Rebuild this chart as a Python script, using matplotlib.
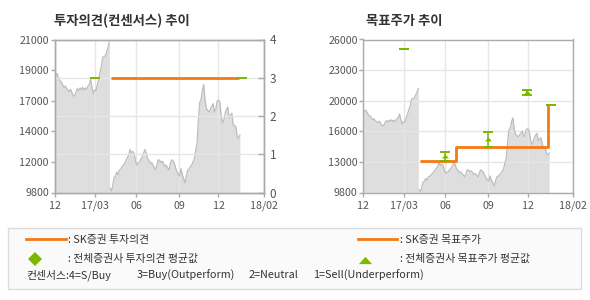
import matplotlib
matplotlib.use('Agg')
import matplotlib.pyplot as plt
import numpy as np
from matplotlib.lines import Line2D
from matplotlib.patches import Rectangle

plt.rcParams['font.family'] = ['Noto Sans CJK KR', 'DejaVu Sans']

# ---------------- data ----------------
# x axis = trading-day index starting 2016-12-01
x_tick_pos = [0, 61, 122, 186, 245, 313]
x_tick_labels = ['12', '17/03', '06', '09', '12', '18/02']

# share price, segment 1 (Dec-2016 .. end of Mar-2017), every 2nd trading day from index 0
price_seg1 = [18300, 18450, 18500, 18200, 18000, 17900, 17700, 17500, 17600, 17400,
              17300, 17200, 17350, 17100, 16900, 16850, 17150, 17400, 17250, 17450,
              17350, 17500, 17300, 17450, 17350, 17600, 17700, 18100, 17500, 17050,
              17300, 17250, 17700, 18100, 18600, 19000, 19700, 19750, 19800, 20100,
              20400, 20800]
# share price, segment 2 (after re-listing), every 2nd trading day from index 83
price_seg2 = [10100, 9900, 10300, 10900, 11000, 11300, 11100, 11450, 11500, 11700,
              11800, 11950, 12200, 12350, 12600, 12950, 12700, 12800, 12650, 12100,
              11800, 11950, 12050, 12250, 12400, 12650, 12950, 12700, 12300, 12150,
              11950, 12000, 11800, 11650, 11450, 11800, 12200, 12150, 12000, 12100,
              11900, 11700, 11800, 11600, 11450, 11900, 12200, 12100, 11950, 11600,
              11300, 11150, 11000, 11550, 11100, 10800, 10500, 11000, 11450, 11500,
              11700, 11800, 12050, 12300, 12900, 13400, 15100, 16400, 16600, 17300,
              17700, 16500, 15950, 15800, 15700, 15900, 16100, 16300, 15700, 15900,
              16500, 16550, 16400, 15450, 14900, 15100, 15600, 15900, 16050, 15250,
              15450, 15600, 14750, 14700, 14600, 13900, 13750, 14000]
seg1_start, seg2_start, step = 0, 83, 2

# left chart: SK opinion (1..4) and consensus
rating_idx = [84, 275]
rating_val = [3, 3]
cons_rating_idx = [61, 280]
cons_rating_val = [3, 3]
left_yticks_labels = ['9800', '12000', '14000', '17000', '19000', '21000']
left_ylim = (9800, 21000)
rating_ticks = [0, 1, 2, 3, 4]

# right chart: SK target price and consensus range / average
target_idx = [85, 138, 275]
target_val = [13100, 14600, 19100]
cons_idx = [61, 122, 186, 244, 280]
cons_hi = [25000, 14100, 16200, 20600, 19100]
cons_lo = [25000, 13100, 14600, 20100, 19100]
cons_avg = [np.nan, 13700, 15450, 20450, np.nan]
right_yticks_labels = ['9800', '13000', '16000', '20000', '23000', '26000']
right_ylim = (9800, 26000)

# ---------------- style ----------------
ORANGE = '#f57a12'
GREEN = '#7cb800'
FILL = '#dedede'
PLINE = '#bdbdbd'
GRID = '#e6e6e6'
SPINE = '#ababab'
TXT = '#555555'
DARK = '#333333'

W, H = 590, 300
fig = plt.figure(figsize=(W / 100, H / 100), dpi=100)


def px_ax(x0, x1, y0, y1):
    return fig.add_axes([x0 / W, 1 - y1 / H, (x1 - x0) / W, (y1 - y0) / H])


def draw_price(ax, ymin):
    for start, vals in [(seg1_start, price_seg1), (seg2_start, price_seg2)]:
        idx = np.arange(start, start + step * len(vals), step)
        ax.fill_between(idx, vals, ymin, color=FILL, lw=0, zorder=1)
        ax.plot(idx, vals, color=PLINE, lw=0.9, zorder=2)


def base_style(ax, ylim, ylabels):
    ax.set_xlim(x_tick_pos[0], x_tick_pos[-1])
    ax.set_ylim(*ylim)
    ax.set_xticks(x_tick_pos)
    ax.set_xticklabels(x_tick_labels)
    yt = np.linspace(ylim[0], ylim[1], len(ylabels))
    ax.set_yticks(yt)
    ax.set_yticklabels(ylabels)
    for s in ax.spines.values():
        s.set_color(SPINE)
        s.set_linewidth(1.0)
    ax.tick_params(axis='both', color=SPINE, labelcolor=TXT, labelsize=7.7,
                   direction='out', length=3, width=1)
    ax.tick_params(axis='y', pad=1)
    ax.tick_params(axis='x', pad=3)
    ax.set_axisbelow('line')


# ---- left chart ----
axL = px_ax(54.5, 264, 39.5, 192.5)
base_style(axL, left_ylim, left_yticks_labels)
axL.grid(axis='x', color=GRID, lw=1.0)
draw_price(axL, left_ylim[0])

ax2 = axL.twinx()
ax2.set_ylim(0, 4)
ax2.set_yticks(rating_ticks)
ax2.set_yticklabels([str(v) for v in rating_ticks])
ax2.grid(axis='y', color=GRID, lw=1.0, zorder=0)
ax2.set_axisbelow('line')
for s in ax2.spines.values():
    s.set_color(SPINE)
    s.set_linewidth(1.0)
ax2.tick_params(axis='y', color=SPINE, labelcolor=TXT, labelsize=8.5,
                direction='in', length=4, width=1, pad=4)
ax2.plot(rating_idx, rating_val, drawstyle='steps-post', color=ORANGE, lw=2.0,
         solid_capstyle='butt', zorder=3)
ax2.plot(cons_rating_idx, cons_rating_val, ls='none', marker='_', ms=7, mew=1.4,
         color=GREEN, zorder=4)

# ---- right chart ----
axR = px_ax(363.3, 573.3, 39.5, 192.5)
base_style(axR, right_ylim, right_yticks_labels)
axR.grid(True, color=GRID, lw=1.0)
draw_price(axR, right_ylim[0])
axR.plot(target_idx, target_val, drawstyle='steps-post', color=ORANGE, lw=2.0,
         solid_capstyle='butt', zorder=3)
for xi, lo, hi in zip(cons_idx, cons_lo, cons_hi):
    if hi != lo:
        axR.plot([xi, xi], [lo, hi], color=GREEN, lw=1.1, zorder=4)
    axR.plot([xi, xi], [lo, hi], ls='none', marker='_', ms=7, mew=1.4,
             color=GREEN, zorder=4)
tri = [(-1, -0.55), (1, -0.55), (0, 0.55)]
axR.plot(cons_idx, cons_avg, ls='none', marker=tri, ms=5, color=GREEN,
         mew=0, zorder=5)

# ---- titles ----
fig.text(54.5 / W, 1 - 20.5 / H, '투자의견(컨센서스) 추이', fontsize=9.6,
         fontweight='bold', color=DARK, ha='left', va='center')
fig.text(366.5 / W, 1 - 20.5 / H, '목표주가 추이', fontsize=9.6,
         fontweight='bold', color=DARK, ha='left', va='center')

# ---- legend box ----
fig.add_artist(Rectangle((8.3 / W, 1 - 289.3 / H), (581 - 8.3) / W, 61 / H,
                         transform=fig.transFigure, facecolor='#fafafa',
                         edgecolor='#dcdcdc', lw=1.0))


def fy(y):
    return 1 - y / H


fig.add_artist(Line2D([26 / W, 65.7 / W], [fy(239.3)] * 2, color=ORANGE, lw=2.0,
                      transform=fig.transFigure))
fig.add_artist(Line2D([358 / W, 397 / W], [fy(239.3)] * 2, color=ORANGE, lw=2.0,
                      transform=fig.transFigure))
fig.add_artist(Line2D([35 / W], [fy(258.7)], marker='D', ms=6.8, color=GREEN,
                      mew=0, ls='none', transform=fig.transFigure))
fig.add_artist(Line2D([365 / W], [fy(259.5)], marker=tri, ms=9.5, color=GREEN,
                      mew=0, ls='none', transform=fig.transFigure))

LFS = 7.8
fig.text(67.5 / W, fy(239.5), ': SK증권 투자의견', fontsize=LFS, color=DARK, va='center')
fig.text(67.5 / W, fy(258.5), ': 전체증권사 투자의견 평균값', fontsize=LFS, color=DARK, va='center')
fig.text(399.5 / W, fy(239.5), ': SK증권 목표주가', fontsize=LFS, color=DARK, va='center')
fig.text(399.5 / W, fy(258.5), ': 전체증권사 목표주가 평균값', fontsize=LFS, color=DARK, va='center')

consensus_parts = ['컨센서스:4=S/Buy', '3=Buy(Outperform)', '2=Neutral', '1=Sell(Underperform)']
consensus_x = [26, 137, 249, 313]
for xp, t in zip(consensus_x, consensus_parts):
    fig.text(xp / W, fy(275.5), t, fontsize=LFS, color=DARK, va='center')

fig.savefig('out.png', dpi=100, facecolor='white')
